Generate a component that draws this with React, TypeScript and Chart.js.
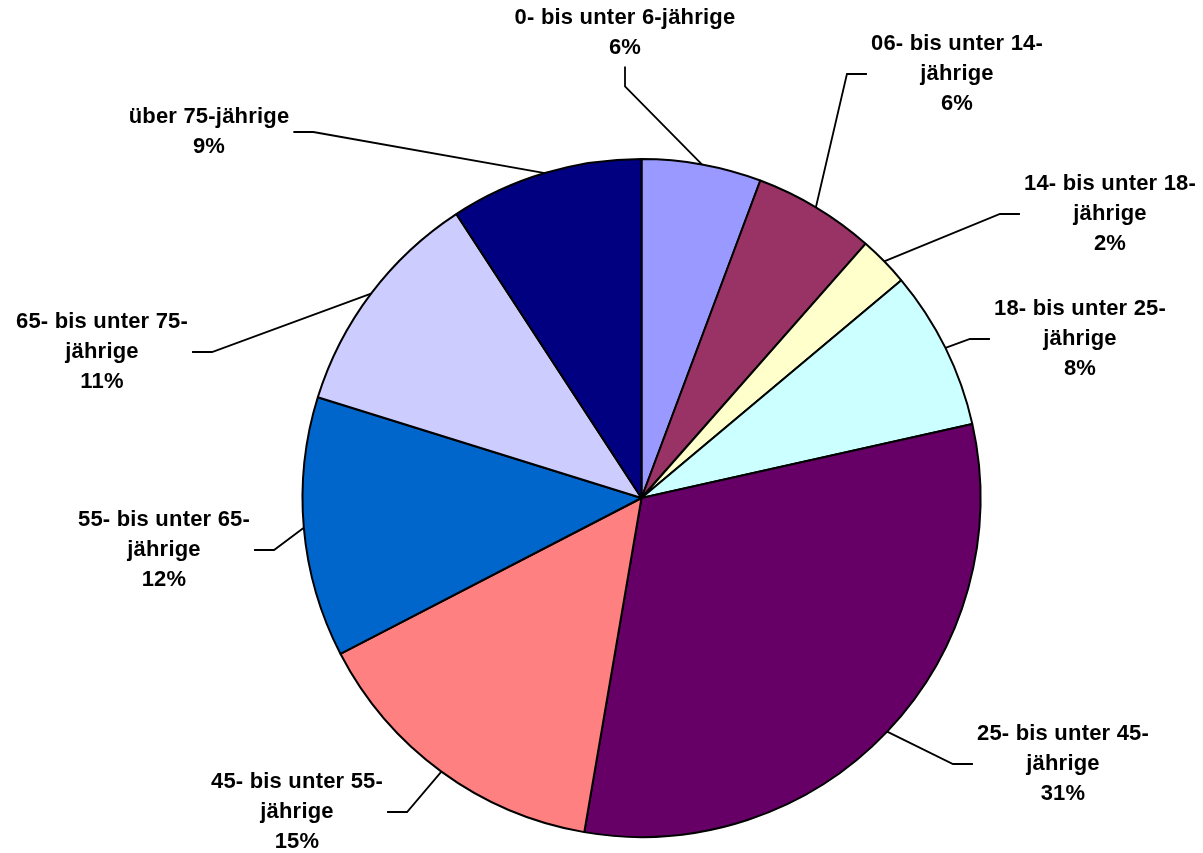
import React, { useEffect, useRef } from "react";
import { Chart, registerables } from "chart.js";

Chart.register(...registerables);

const categories = [
  "0- bis unter 6-jährige",
  "06- bis unter 14-jährige",
  "14- bis unter 18-jährige",
  "18- bis unter 25-jährige",
  "25- bis unter 45-jährige",
  "45- bis unter 55-jährige",
  "55- bis unter 65-jährige",
  "65- bis unter 75-jährige",
  "über 75-jährige",
];

const shares = [5.7, 5.8, 2.4, 7.6, 31.2, 14.7, 12.4, 11.0, 9.2];

const sliceColors = [
  "#9999FF",
  "#993366",
  "#FFFFCC",
  "#CCFFFF",
  "#660066",
  "#FF8080",
  "#0066CC",
  "#CCCCFF",
  "#000080",
];

// Label block placement relative to the pie centre, wrap width, and the side of the block where the leader attaches
const labelLayout = [
  { dx: -16.5, dy: -465.5, wrap: 400, side: "bottom" },
  { dx: 315.5, dy: -424, wrap: 200, side: "left" },
  { dx: 468.5, dy: -284, wrap: 200, side: "left" },
  { dx: 438.5, dy: -159, wrap: 200, side: "left" },
  { dx: 421.5, dy: 266, wrap: 200, side: "left" },
  { dx: -344.5, dy: 314, wrap: 200, side: "right" },
  { dx: -477.5, dy: 52, wrap: 200, side: "right" },
  { dx: -539.5, dy: -146, wrap: 200, side: "right" },
  { dx: -432.5, dy: -366, wrap: 200, side: "right" },
];

const FONT = "bold 22px 'Liberation Sans', Arial, sans-serif";
const LINE_H = 30;
const GAP = 4;
const STUB = 20;

function wrapText(ctx: CanvasRenderingContext2D, text: string, maxW: number): string[] {
  const tokens = text.match(/[^\s-]+-?\s*|-\s*/g) || [text];
  const lines: string[] = [];
  let cur = "";
  for (const t of tokens) {
    const trial = cur + t;
    if (cur && ctx.measureText(trial.trimEnd()).width > maxW) {
      lines.push(cur.trimEnd());
      cur = t;
    } else {
      cur = trial;
    }
  }
  if (cur) lines.push(cur.trimEnd());
  return lines;
}

const labelPlugin = {
  id: "pieLabels",
  afterDatasetsDraw(chart: any) {
    const ctx: CanvasRenderingContext2D = chart.ctx;
    const meta = chart.getDatasetMeta(0);
    const data: number[] = chart.data.datasets[0].data;
    const total = data.reduce((a: number, b: number) => a + b, 0);
    ctx.save();
    ctx.font = FONT;
    (ctx as any).letterSpacing = "0.2px";
    ctx.fillStyle = "#000";
    ctx.strokeStyle = "#000";
    ctx.lineWidth = 1.8;
    ctx.textAlign = "center";
    ctx.textBaseline = "middle";
    meta.data.forEach((arc: any, i: number) => {
      const lay = labelLayout[i];
      const label = chart.data.labels[i] as string;
      const lines = wrapText(ctx, label, lay.wrap);
      lines.push(Math.round((data[i] / total) * 100) + "%");
      const cx = arc.x + lay.dx;
      const cy = arc.y + lay.dy;
      const blockW = Math.max(...lines.map((l) => ctx.measureText(l).width));
      const blockH = lines.length * LINE_H;
      const mid = (arc.startAngle + arc.endAngle) / 2;
      const px = arc.x + Math.cos(mid) * arc.outerRadius;
      const py = arc.y + Math.sin(mid) * arc.outerRadius;
      let ax: number, ay: number, ex: number, ey: number;
      if (lay.side === "left") {
        ax = cx - blockW / 2 - GAP;
        ay = cy;
        ex = ax - STUB;
        ey = ay;
      } else if (lay.side === "right") {
        ax = cx + blockW / 2 + GAP;
        ay = cy;
        ex = ax + STUB;
        ey = ay;
      } else {
        ax = cx;
        ay = cy + blockH / 2 + GAP;
        ex = ax;
        ey = ay + STUB;
      }
      ctx.beginPath();
      ctx.moveTo(ax, ay);
      ctx.lineTo(ex, ey);
      ctx.lineTo(px, py);
      ctx.stroke();
      lines.forEach((l, k) => {
        ctx.fillText(l, cx, cy + (k - (lines.length - 1) / 2) * LINE_H);
      });
    });
    ctx.restore();
  },
};

export default function App() {
  const ref = useRef<HTMLCanvasElement | null>(null);
  useEffect(() => {
    if (!ref.current) return;
    const chart = new Chart(ref.current, {
      type: "pie",
      data: {
        labels: categories,
        datasets: [
          {
            data: shares,
            backgroundColor: sliceColors,
            borderColor: "#000000",
            borderWidth: 2,
            hoverOffset: 0,
          },
        ],
      },
      options: {
        responsive: false,
        animation: false,
        devicePixelRatio: 1,
        layout: {
          padding: { left: 301.5, top: 158, right: 221.5, bottom: 15 },
        },
        plugins: {
          legend: { display: false },
          tooltip: { enabled: false },
        },
        events: [],
      },
      plugins: [labelPlugin],
    });
    return () => chart.destroy();
  }, []);
  return (
    <div style={{ position: "absolute", left: 0, top: 0, width: 1203, height: 853, background: "#fff" }}>
      <canvas ref={ref} width={1203} height={853} style={{ display: "block" }} />
    </div>
  );
}
